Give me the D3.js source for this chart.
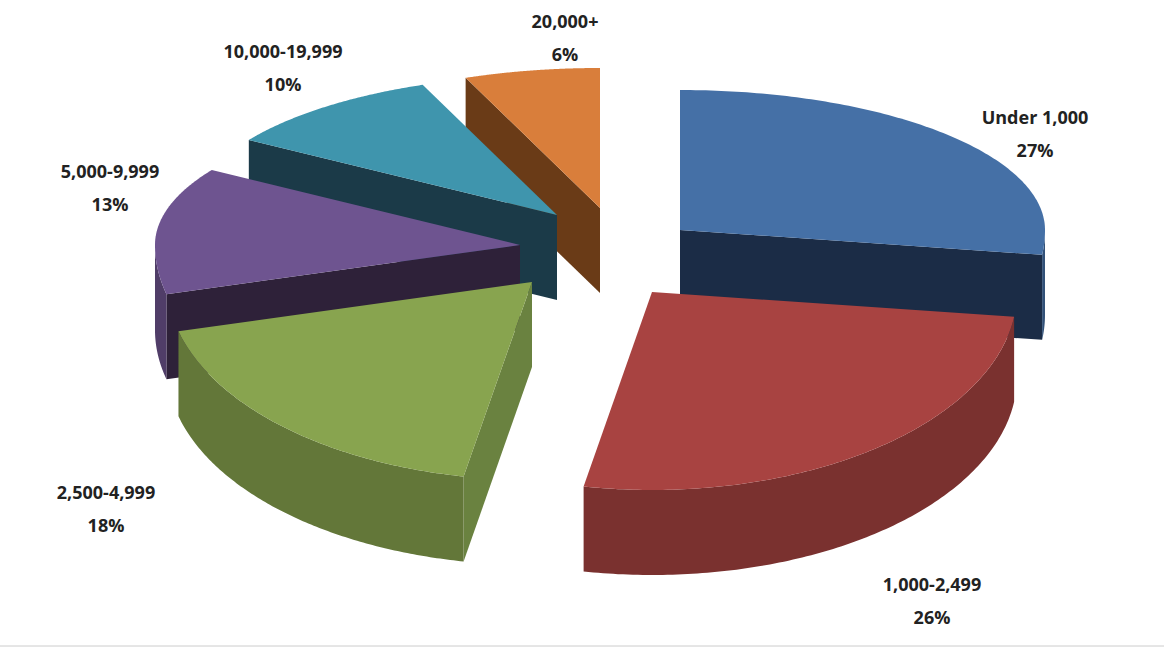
<!DOCTYPE html>
<html>
<head>
<meta charset="utf-8">
<script src="https://cdn.jsdelivr.net/npm/d3@7"></script>
<style>
  body { margin: 0; background: #fff; }
  text { font-family: "Open Sans", "Liberation Sans", sans-serif; font-weight: bold; }
</style>
</head>
<body>
<svg id="chart" width="1164" height="650"></svg>
<script>
const categories = ["Under 1,000", "1,000-2,499", "2,500-4,999", "5,000-9,999", "10,000-19,999", "20,000+"];
const shares = [27, 26, 18, 13, 10, 6];
const topColors = ["#4570a6", "#a84341", "#88a44f", "#6e5490", "#3f95ad", "#d97e3b"];
const sideColors = ["#1b2c46", "#5b1f1e", "#6a8240", "#2e2139", "#1b3a48", "#6a3b17"];
// layout: apex position of each exploded slice, and label positions
const apexPos = [[680, 230], [652, 292], [532, 282], [520, 245], [557, 215], [600, 208]];
const labelPos = [[1035, 118], [932, 585], [106, 493], [110, 172], [283, 52], [565, 22]];

const svg = d3.select("#chart");
const rx = 365, ryBack = 140, ryFront = 198, depth = 85;

const pie = d3.pie().sort(null).value(d => d).startAngle(0).endAngle(2 * Math.PI);
const arcs = pie(shares).map((a, i) => ({
  i, s: a.startAngle, e: a.endAngle, c: { x: apexPos[i][0], y: apexPos[i][1] }
}));

const pt = (c, t, dz = 0) => {
  const k = Math.cos(t);
  return [c.x + rx * Math.sin(t), c.y - k * (k > 0 ? ryBack : ryFront) + dz];
};
const samples = (s, e) => d3.range(0, 1.0001, 1 / 120).map(k => s + (e - s) * k);
const line = d3.line();

arcs.slice().sort((a, b) => a.c.y - b.c.y).forEach(a => {
  const g = svg.append("g");
  const apex = [a.c.x, a.c.y];
  const apexB = [a.c.x, a.c.y + depth];
  if (Math.sin(a.s) < -0.01) {
    g.append("path").attr("d", line([apex, pt(a.c, a.s), pt(a.c, a.s, depth), apexB]) + "Z")
      .attr("fill", sideColors[a.i]);
  }
  if (Math.sin(a.e) > 0.01) {
    g.append("path").attr("d", line([apex, pt(a.c, a.e), pt(a.c, a.e, depth), apexB]) + "Z")
      .attr("fill", sideColors[a.i]);
  }
  const s0 = Math.max(a.s, Math.PI / 2), e0 = Math.min(a.e, 1.5 * Math.PI);
  if (e0 > s0) {
    const ts = samples(s0, e0);
    const pts = ts.map(t => pt(a.c, t)).concat(ts.slice().reverse().map(t => pt(a.c, t, depth)));
    g.append("path").attr("d", line(pts) + "Z").attr("fill", d3.color(topColors[a.i]).darker(0.9));
  }
  const top = [apex].concat(samples(a.s, a.e).map(t => pt(a.c, t)));
  g.append("path").attr("d", line(top) + "Z").attr("fill", topColors[a.i]);
});

categories.forEach((name, i) => {
  const [x, y] = labelPos[i];
  const t = svg.append("text").attr("x", x).attr("y", y).attr("text-anchor", "middle")
    .attr("font-size", 18).attr("fill", "#222");
  t.append("tspan").attr("x", x).attr("dy", "0.35em").text(name);
  t.append("tspan").attr("x", x).attr("dy", "1.8em").text(shares[i] + "%");
});

svg.append("line").attr("x1", 0).attr("x2", 1164).attr("y1", 646).attr("y2", 646)
  .attr("stroke", "#ccc").attr("stroke-width", 1);
</script>
</body>
</html>
